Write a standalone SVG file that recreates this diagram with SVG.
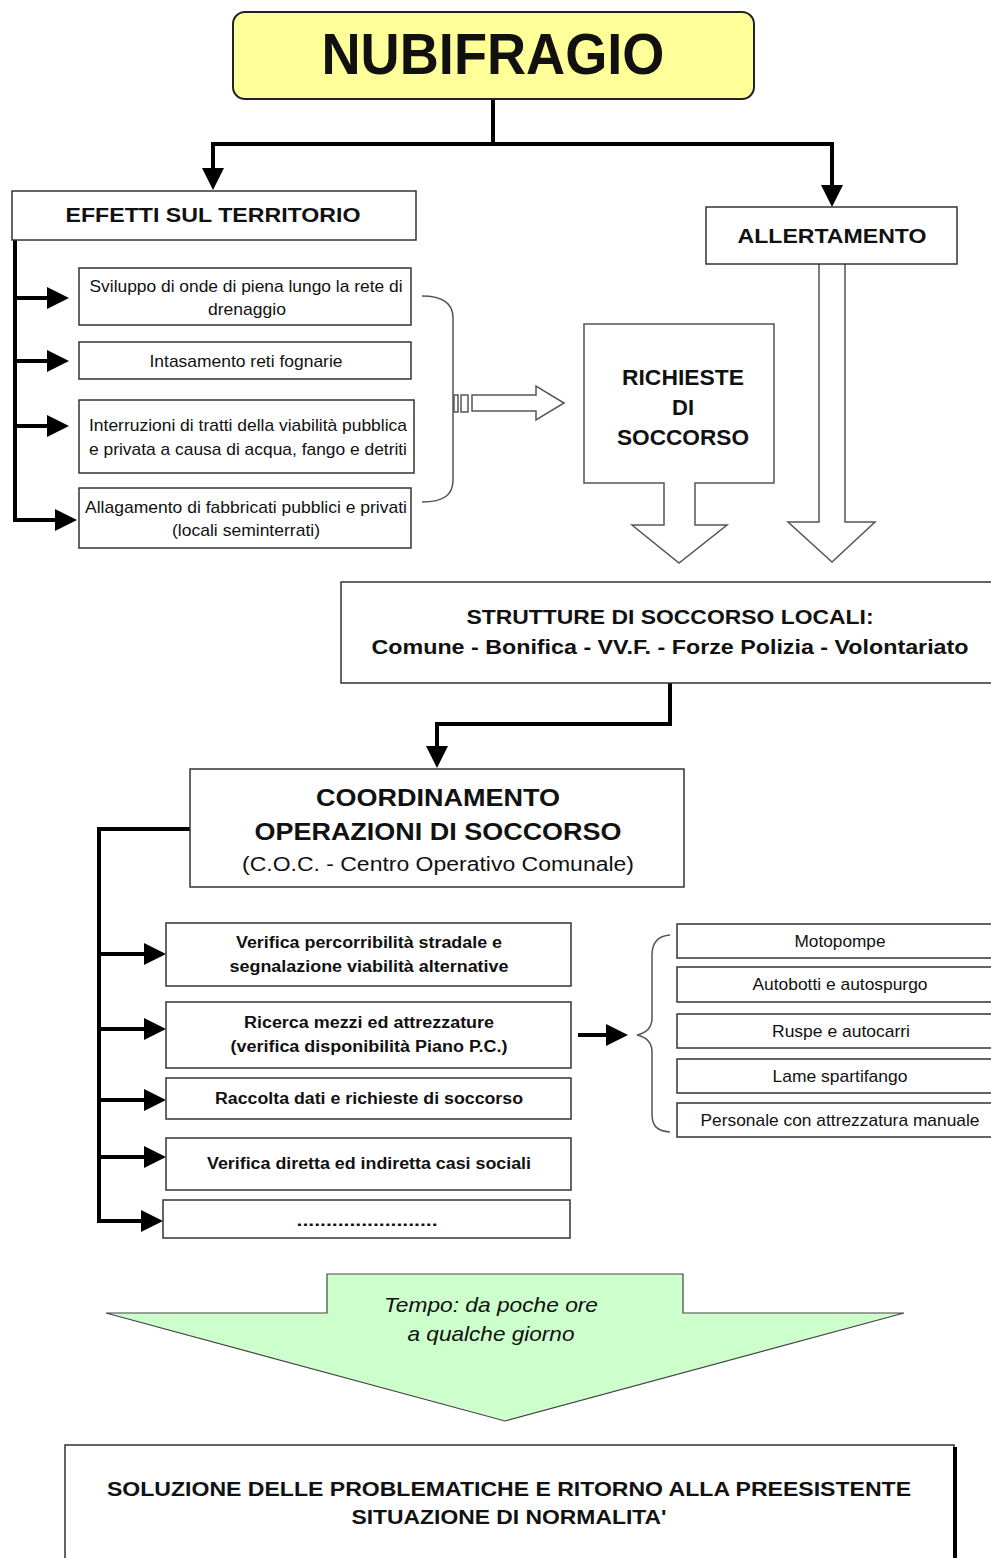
<svg xmlns="http://www.w3.org/2000/svg" width="991" height="1558" viewBox="0 0 991 1558">
<style>
.box{fill:#fff;stroke:#333;stroke-width:1.5}
.conn{fill:none;stroke:#000;stroke-width:4;stroke-linejoin:miter}
.brace{fill:none;stroke:#555;stroke-width:1.5}
.hollow{fill:#fff;stroke:#555;stroke-width:1.5}
text{font-family:"Liberation Sans Narrow","Liberation Sans",Arial,sans-serif;fill:#111;text-anchor:middle}
.nb{font-weight:bold}
.w{font-family:"Liberation Sans",Arial,sans-serif}
</style>
<defs>
<marker id="ah" markerUnits="userSpaceOnUse" markerWidth="22" markerHeight="22" refX="0" refY="11" orient="auto" viewBox="0 0 22 22">
<path d="M0,0 L22,11 L0,22 z" fill="#000"/>
</marker>
</defs>
<rect width="991" height="1558" fill="#fff"/>

<g id="connectors">
<path class="conn" d="M493,99 V144"/>
<path class="conn" d="M493,144 H213 V168" marker-end="url(#ah)"/>
<path class="conn" d="M493,144 H832 V185" marker-end="url(#ah)"/>
<path class="conn" d="M15,240 V520 H55" marker-end="url(#ah)"/>
<path class="conn" d="M15,298 H47" marker-end="url(#ah)"/>
<path class="conn" d="M15,361 H47" marker-end="url(#ah)"/>
<path class="conn" d="M15,426 H47" marker-end="url(#ah)"/>
<path class="brace" d="M422,296 C445,296 453,305 453,318 V480 C453,494 445,502 422,502"/>
<g id="hollow-arrow">
<rect class="hollow" x="454" y="395" width="4" height="17"/>
<rect class="hollow" x="461" y="395" width="7" height="17"/>
<polygon class="hollow" points="472,395 536,395 536,386 564,403 536,420 536,411 472,411"/>
</g>
<path class="conn" d="M670,683 V724 H437 V746" marker-end="url(#ah)"/>
<path class="conn" d="M190,829 H99 V1221 H141" marker-end="url(#ah)"/>
<path class="conn" d="M99,954 H144" marker-end="url(#ah)"/>
<path class="conn" d="M99,1029 H144" marker-end="url(#ah)"/>
<path class="conn" d="M99,1100 H144" marker-end="url(#ah)"/>
<path class="conn" d="M99,1157 H144" marker-end="url(#ah)"/>
<path class="conn" d="M578,1035 H606" marker-end="url(#ah)"/>
<path class="brace" d="M670,935 C657,936 652,943 652,955 V1018 C652,1028 646,1033 637,1035 C646,1037 652,1042 652,1052 V1114 C652,1126 657,1131 670,1132"/>
</g>

<g id="nubifragio">
<rect x="233" y="12" width="521" height="87" rx="12" fill="#ffff99" stroke="#222" stroke-width="2"/>
<text class="nb" x="493" y="74" font-size="58" textLength="343" lengthAdjust="spacingAndGlyphs">NUBIFRAGIO</text>
</g>

<g id="effetti">
<rect class="box" x="12" y="191" width="404" height="49"/>
<text class="nb" x="213" y="222" font-size="21" textLength="295" lengthAdjust="spacingAndGlyphs">EFFETTI SUL TERRITORIO</text>
</g>

<g id="allertamento">
<polygon class="hollow" points="819,262 845,262 845,522 875,522 832,562 788,522 819,522"/>
<rect class="box" x="706" y="207" width="251" height="57"/>
<text class="nb" x="832" y="243" font-size="21" textLength="189" lengthAdjust="spacingAndGlyphs">ALLERTAMENTO</text>
</g>

<g id="effect1">
<rect class="box" x="79" y="268" width="332" height="57"/>
<text x="246" y="292" font-size="17" textLength="313" lengthAdjust="spacingAndGlyphs">Sviluppo di onde di piena lungo la rete di</text>
<text x="247" y="315" font-size="17" textLength="78" lengthAdjust="spacingAndGlyphs">drenaggio</text>
</g>
<g id="effect2">
<rect class="box" x="79" y="342" width="332" height="37"/>
<text x="246" y="367" font-size="17" textLength="193" lengthAdjust="spacingAndGlyphs">Intasamento reti fognarie</text>
</g>
<g id="effect3">
<rect class="box" x="79" y="400" width="335" height="73"/>
<text x="248" y="431" font-size="17" textLength="318" lengthAdjust="spacingAndGlyphs">Interruzioni di tratti della viabilità pubblica</text>
<text x="248" y="455" font-size="17" textLength="318" lengthAdjust="spacingAndGlyphs">e privata a causa di acqua, fango e detriti</text>
</g>
<g id="effect4">
<rect class="box" x="79" y="488" width="332" height="60"/>
<text x="246" y="513" font-size="17" textLength="322" lengthAdjust="spacingAndGlyphs">Allagamento di fabbricati pubblici e privati</text>
<text x="246" y="536" font-size="17" textLength="148" lengthAdjust="spacingAndGlyphs">(locali seminterrati)</text>
</g>

<g id="richieste">
<polygon class="hollow" points="584,324 774,324 774,483 695,483 695,525 727,525 679,563 632,525 664,525 664,483 584,483"/>
<text class="nb w" x="683" y="385" font-size="22" textLength="122" lengthAdjust="spacingAndGlyphs">RICHIESTE</text>
<text class="nb w" x="683" y="415" font-size="22">DI</text>
<text class="nb w" x="683" y="445" font-size="22" textLength="132" lengthAdjust="spacingAndGlyphs">SOCCORSO</text>
</g>

<g id="strutture">
<rect class="box" x="341" y="582" width="660" height="101"/>
<text class="nb w" x="670" y="624" font-size="20" textLength="407" lengthAdjust="spacingAndGlyphs">STRUTTURE DI SOCCORSO LOCALI:</text>
<text class="nb w" x="670" y="654" font-size="20" textLength="597" lengthAdjust="spacingAndGlyphs">Comune - Bonifica - VV.F. - Forze Polizia - Volontariato</text>
</g>

<g id="coordinamento">
<rect class="box" x="190" y="769" width="494" height="118"/>
<text class="nb w" x="438" y="806" font-size="24" textLength="244" lengthAdjust="spacingAndGlyphs">COORDINAMENTO</text>
<text class="nb w" x="438" y="840" font-size="24" textLength="367" lengthAdjust="spacingAndGlyphs">OPERAZIONI DI SOCCORSO</text>
<text class="w" x="438" y="871" font-size="20" fill="#222" textLength="392" lengthAdjust="spacingAndGlyphs">(C.O.C. - Centro Operativo Comunale)</text>
</g>

<g id="azione1">
<rect class="box" x="166" y="923" width="405" height="63"/>
<text class="nb w" x="369" y="948" font-size="16" textLength="266" lengthAdjust="spacingAndGlyphs">Verifica percorribilità stradale e</text>
<text class="nb w" x="369" y="972" font-size="16" textLength="279" lengthAdjust="spacingAndGlyphs">segnalazione viabilità alternative</text>
</g>
<g id="azione2">
<rect class="box" x="166" y="1002" width="405" height="66"/>
<text class="nb w" x="369" y="1028" font-size="16" textLength="250" lengthAdjust="spacingAndGlyphs">Ricerca mezzi ed attrezzature</text>
<text class="nb w" x="369" y="1052" font-size="16" textLength="277" lengthAdjust="spacingAndGlyphs">(verifica disponibilità Piano P.C.)</text>
</g>
<g id="azione3">
<rect class="box" x="166" y="1078" width="405" height="41"/>
<text class="nb w" x="369" y="1104" font-size="16" textLength="308" lengthAdjust="spacingAndGlyphs">Raccolta dati e richieste di soccorso</text>
</g>
<g id="azione4">
<rect class="box" x="166" y="1138" width="405" height="52"/>
<text class="nb w" x="369" y="1169" font-size="16" textLength="324" lengthAdjust="spacingAndGlyphs">Verifica diretta ed indiretta casi sociali</text>
</g>
<g id="azione5">
<rect class="box" x="163" y="1200" width="407" height="38"/>
<text class="nb w" x="367" y="1226" font-size="16" textLength="141" lengthAdjust="spacingAndGlyphs">........................</text>
</g>

<g id="mezzo1">
<rect class="box" x="677" y="924" width="330" height="34"/>
<text x="840" y="947" font-size="17" textLength="91" lengthAdjust="spacingAndGlyphs">Motopompe</text>
</g>
<g id="mezzo2">
<rect class="box" x="677" y="967" width="330" height="35"/>
<text x="840" y="990" font-size="17" textLength="175" lengthAdjust="spacingAndGlyphs">Autobotti e autospurgo</text>
</g>
<g id="mezzo3">
<rect class="box" x="677" y="1014" width="330" height="34"/>
<text x="841" y="1037" font-size="17" textLength="138" lengthAdjust="spacingAndGlyphs">Ruspe e autocarri</text>
</g>
<g id="mezzo4">
<rect class="box" x="677" y="1059" width="330" height="34"/>
<text x="840" y="1082" font-size="17" textLength="135" lengthAdjust="spacingAndGlyphs">Lame spartifango</text>
</g>
<g id="mezzo5">
<rect class="box" x="677" y="1103" width="330" height="34"/>
<text x="840" y="1126" font-size="17" textLength="279" lengthAdjust="spacingAndGlyphs">Personale con attrezzatura manuale</text>
</g>

<g id="tempo">
<polygon points="327,1274 683,1274 683,1313 904,1313 505,1421 106,1313 327,1313" fill="#ccffcc" stroke="#444" stroke-width="1.2"/>
<text x="491" y="1312" font-size="21" font-style="italic" fill="#333" textLength="214" lengthAdjust="spacingAndGlyphs">Tempo: da poche ore</text>
<text x="491" y="1341" font-size="21" font-style="italic" fill="#333" textLength="167" lengthAdjust="spacingAndGlyphs">a qualche giorno</text>
</g>

<g id="soluzione">
<rect class="box" x="65" y="1445" width="889" height="130"/>
<line x1="955" y1="1447" x2="955" y2="1558" stroke="#000" stroke-width="4"/>
<text class="nb" x="509" y="1496" font-size="21" textLength="804" lengthAdjust="spacingAndGlyphs">SOLUZIONE DELLE PROBLEMATICHE E RITORNO ALLA PREESISTENTE</text>
<text class="nb" x="509" y="1524" font-size="21" textLength="315" lengthAdjust="spacingAndGlyphs">SITUAZIONE DI NORMALITA'</text>
</g>
</svg>
